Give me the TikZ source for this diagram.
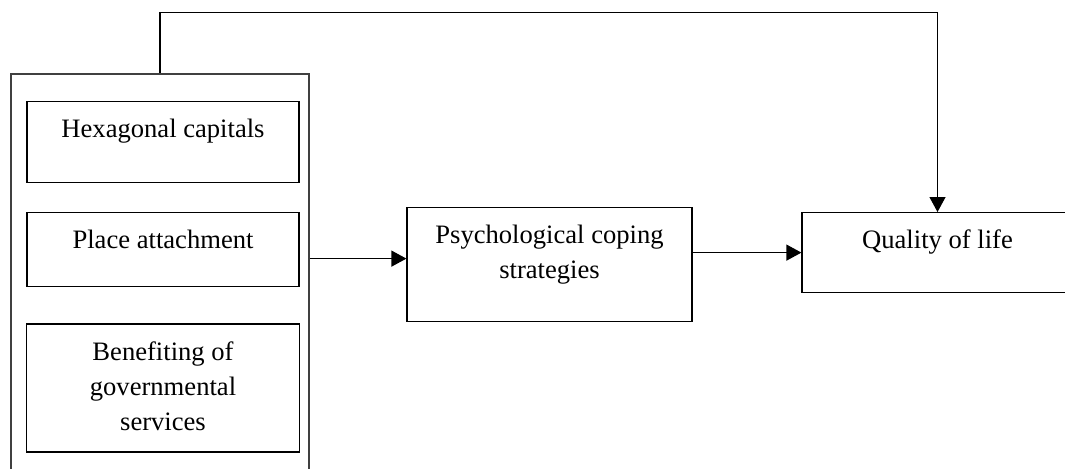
\documentclass[tikz,border=0pt]{standalone}
\usepackage{fontspec}
\setmainfont{Liberation Serif}
\usetikzlibrary{positioning, arrows.meta}

\begin{document}
\begin{tikzpicture}[
            x=1pt, y=1pt,
            box/.style={draw, rectangle, line width=0.6pt, inner xsep=0pt, inner ysep=0pt, anchor=north, align=center, text height=18pt, font=\fontsize{13.3}{17.5}\selectfont},
            arr/.style={-{Triangle[length=7.5pt, width=8pt]}, line width=0.6pt}
        ]
            \useasboundingbox (0,0) rectangle (532.5,-234);
            \node[draw=black!75, line width=0.8pt, minimum width=149pt, minimum height=215pt, anchor=north] (group) at (80,-36.5) {};
            \node[box, minimum width=136pt, text depth=22.5pt] (hex) at (81.5,-50.5) {Hexagonal capitals};
            \node[box, minimum width=136pt, text depth=19pt, below=14.5pt of hex] (place) {Place attachment};
            % multi-line text: height counts up to the last line
            \node[box, minimum width=136.5pt, text height=53pt, text depth=11pt, below=18pt of place] (serv) {Benefiting of\\governmental\\services};
            \node[box, minimum width=142.5pt, text height=35.5pt, text depth=21.5pt] (psych) at (274.75,-103.5) {Psychological coping\\strategies};
            \node[box, minimum width=135.5pt, text depth=22pt] (qol) at (468.75,-106) {Quality of life};

            \draw[arr] ([yshift=3pt]psych.west -| group.east) -- ([yshift=3pt]psych.west);
            \draw[arr] (psych.east |- qol.west) -- (qol.west);
            \draw[arr] (group.north) -- ++(0,30.25) -| (qol.north);
        \end{tikzpicture}
\end{document}
